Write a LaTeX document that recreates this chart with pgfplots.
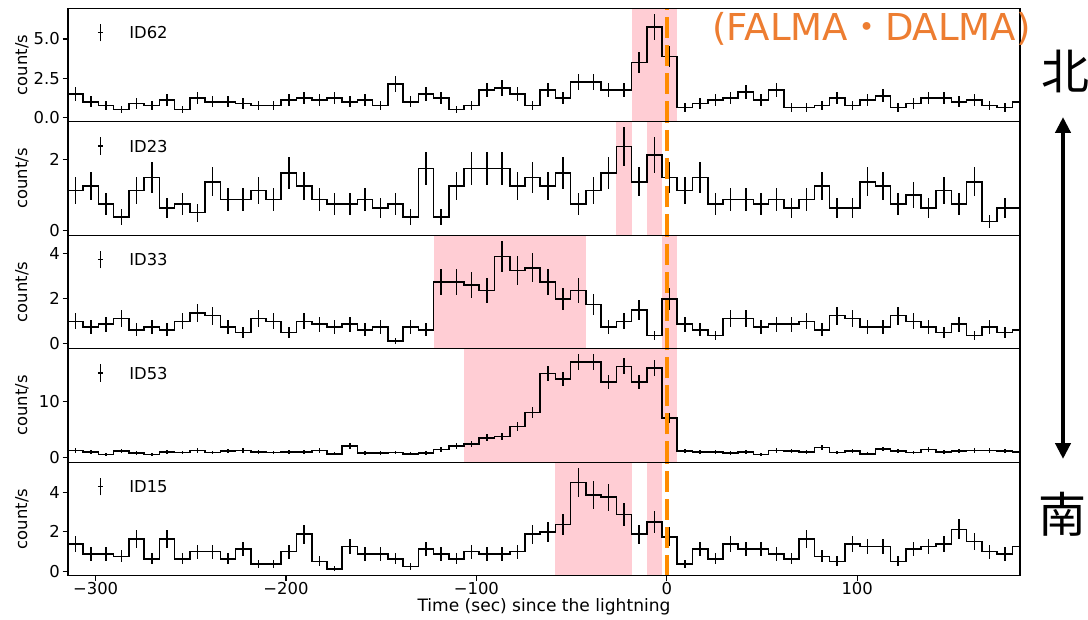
\documentclass[border=0pt]{standalone}
\usepackage{pgfplots}
\pgfplotsset{compat=1.18}
\usepackage{pgfplotstable}
\usepackage{fontspec}
\usetikzlibrary{arrows.meta}
\setmainfont{DejaVu Sans}
\newfontfamily\cjk{Noto Sans CJK JP}
\definecolor{spanpink}{RGB}{255,205,212}
\definecolor{lineorange}{RGB}{255,140,0}
\definecolor{labelorange}{RGB}{237,125,49}
\newcommand\fs{\fontsize{12.3}{14.8}\selectfont}

% 8 s light curves: bin centre, rate (count/s), 1-sigma error
\pgfplotstableread{
t r e
-310.5 1.5 0.433
-302.5 1.0 0.354
-294.5 0.75 0.306
-286.5 0.5 0.25
-278.5 0.875 0.331
-270.5 0.75 0.306
-262.5 1.125 0.375
-254.5 0.5 0.25
-246.5 1.25 0.395
-238.5 1.0 0.354
-230.5 1.0 0.354
-222.5 0.875 0.331
-214.5 0.75 0.306
-206.5 0.75 0.306
-198.5 1.125 0.375
-190.5 1.25 0.395
-182.5 1.125 0.375
-174.5 1.25 0.395
-166.5 1.0 0.354
-158.5 1.125 0.375
-150.5 0.75 0.306
-142.5 2.125 0.515
-134.5 1.0 0.354
-126.5 1.5 0.433
-118.5 1.25 0.395
-110.5 0.5 0.25
-102.5 0.75 0.306
-94.5 1.75 0.468
-86.5 1.875 0.484
-78.5 1.5 0.433
-70.5 0.75 0.306
-62.5 1.75 0.468
-54.5 1.25 0.395
-46.5 2.25 0.530
-38.5 2.25 0.530
-30.5 1.75 0.468
-22.5 1.75 0.468
-14.5 3.5 0.661
-6.5 5.75 0.848
1.5 3.875 0.696
9.5 0.625 0.280
17.5 0.875 0.331
25.5 1.125 0.375
33.5 1.25 0.395
41.5 1.625 0.451
49.5 1.125 0.375
57.5 1.75 0.468
65.5 0.625 0.280
73.5 0.625 0.280
81.5 0.75 0.306
89.5 1.25 0.395
97.5 0.75 0.306
105.5 1.125 0.375
113.5 1.375 0.415
121.5 0.625 0.280
129.5 0.875 0.331
137.5 1.25 0.395
145.5 1.25 0.395
153.5 1.0 0.354
161.5 1.125 0.375
169.5 0.75 0.306
177.5 0.625 0.280
185.5 1.0 0.354
}\idsixtytwo

\pgfplotstableread{
t r e
-310.5 1.125 0.375
-302.5 1.25 0.395
-294.5 0.75 0.306
-286.5 0.375 0.217
-278.5 1.125 0.375
-270.5 1.5 0.433
-262.5 0.625 0.280
-254.5 0.75 0.306
-246.5 0.5 0.25
-238.5 1.375 0.415
-230.5 0.875 0.331
-222.5 0.875 0.331
-214.5 1.125 0.375
-206.5 0.875 0.331
-198.5 1.625 0.451
-190.5 1.25 0.395
-182.5 0.875 0.331
-174.5 0.75 0.306
-166.5 0.75 0.306
-158.5 0.875 0.331
-150.5 0.625 0.280
-142.5 0.75 0.306
-134.5 0.375 0.217
-126.5 1.75 0.468
-118.5 0.375 0.217
-110.5 1.25 0.395
-102.5 1.75 0.468
-94.5 1.75 0.468
-86.5 1.75 0.468
-78.5 1.25 0.395
-70.5 1.5 0.433
-62.5 1.25 0.395
-54.5 1.625 0.451
-46.5 0.75 0.306
-38.5 1.125 0.375
-30.5 1.625 0.451
-22.5 2.375 0.545
-14.5 1.375 0.415
-6.5 2.125 0.515
1.5 1.5 0.433
9.5 1.125 0.375
17.5 1.5 0.433
25.5 0.75 0.306
33.5 0.875 0.331
41.5 0.875 0.331
49.5 0.75 0.306
57.5 0.875 0.331
65.5 0.625 0.280
73.5 0.875 0.331
81.5 1.25 0.395
89.5 0.625 0.280
97.5 0.625 0.280
105.5 1.375 0.415
113.5 1.25 0.395
121.5 0.75 0.306
129.5 1.0 0.354
137.5 0.625 0.280
145.5 1.125 0.375
153.5 0.75 0.306
161.5 1.375 0.415
169.5 0.25 0.177
177.5 0.625 0.280
185.5 0.625 0.280
}\idtwentythree

\pgfplotstableread{
t r e
-310.5 1.0 0.354
-302.5 0.75 0.306
-294.5 0.875 0.331
-286.5 1.125 0.375
-278.5 0.625 0.280
-270.5 0.75 0.306
-262.5 0.625 0.280
-254.5 1.0 0.354
-246.5 1.375 0.415
-238.5 1.25 0.395
-230.5 0.75 0.306
-222.5 0.5 0.25
-214.5 1.125 0.375
-206.5 1.0 0.354
-198.5 0.5 0.25
-190.5 1.0 0.354
-182.5 0.875 0.331
-174.5 0.75 0.306
-166.5 0.875 0.331
-158.5 0.625 0.280
-150.5 0.75 0.306
-142.5 0.125 0.125
-134.5 0.75 0.306
-126.5 0.625 0.280
-118.5 2.75 0.586
-110.5 2.75 0.586
-102.5 2.625 0.573
-94.5 2.375 0.545
-86.5 3.875 0.696
-78.5 3.25 0.637
-70.5 3.375 0.650
-62.5 2.75 0.586
-54.5 2.0 0.5
-46.5 2.375 0.545
-38.5 1.75 0.468
-30.5 0.75 0.306
-22.5 1.0 0.354
-14.5 1.5 0.433
-6.5 0.375 0.217
1.5 2.0 0.5
9.5 0.875 0.331
17.5 0.625 0.280
25.5 0.375 0.217
33.5 1.125 0.375
41.5 1.125 0.375
49.5 0.75 0.306
57.5 0.875 0.331
65.5 0.875 0.331
73.5 1.0 0.354
81.5 0.625 0.280
89.5 1.25 0.395
97.5 1.125 0.375
105.5 0.75 0.306
113.5 0.75 0.306
121.5 1.25 0.395
129.5 1.0 0.354
137.5 0.75 0.306
145.5 0.5 0.25
153.5 0.875 0.331
161.5 0.375 0.217
169.5 0.75 0.306
177.5 0.5 0.25
185.5 0.625 0.280
}\idthirtythree

\pgfplotstableread{
t r e
-310.5 1.25 0.395
-302.5 1.0 0.354
-294.5 0.5 0.25
-286.5 1.125 0.375
-278.5 0.75 0.306
-270.5 0.5 0.25
-262.5 1.0 0.354
-254.5 0.875 0.331
-246.5 1.25 0.395
-238.5 0.875 0.331
-230.5 1.125 0.375
-222.5 1.25 0.395
-214.5 1.0 0.354
-206.5 0.875 0.331
-198.5 1.0 0.354
-190.5 1.0 0.354
-182.5 1.25 0.395
-174.5 0.625 0.280
-166.5 2.0 0.5
-158.5 0.75 0.306
-150.5 0.75 0.306
-142.5 0.875 0.331
-134.5 0.625 0.280
-126.5 0.75 0.306
-118.5 1.375 0.415
-110.5 2.0 0.5
-102.5 2.375 0.545
-94.5 3.5 0.661
-86.5 3.75 0.685
-78.5 5.5 0.829
-70.5 8.0 1.0
-62.5 15.0 1.369
-54.5 14.0 1.323
-46.5 17.0 1.458
-38.5 17.0 1.458
-30.5 13.5 1.299
-22.5 16.25 1.425
-14.5 13.5 1.299
-6.5 16.0 1.414
1.5 7.0 0.935
9.5 1.125 0.375
17.5 1.0 0.354
25.5 1.0 0.354
33.5 0.75 0.306
41.5 1.0 0.354
49.5 0.5 0.25
57.5 1.25 0.395
65.5 1.125 0.375
73.5 1.0 0.354
81.5 1.75 0.468
89.5 0.875 0.331
97.5 1.125 0.375
105.5 0.625 0.280
113.5 1.5 0.433
121.5 1.125 0.375
129.5 0.875 0.331
137.5 1.375 0.415
145.5 1.0 0.354
153.5 1.125 0.375
161.5 1.25 0.395
169.5 1.25 0.395
177.5 1.125 0.375
185.5 1.0 0.354
}\idfiftythree

\pgfplotstableread{
t r e
-310.5 1.375 0.415
-302.5 0.875 0.331
-294.5 0.875 0.331
-286.5 0.75 0.306
-278.5 1.625 0.451
-270.5 0.625 0.280
-262.5 1.625 0.451
-254.5 0.625 0.280
-246.5 1.0 0.354
-238.5 1.0 0.354
-230.5 0.625 0.280
-222.5 1.125 0.375
-214.5 0.375 0.217
-206.5 0.375 0.217
-198.5 1.0 0.354
-190.5 1.875 0.484
-182.5 0.5 0.25
-174.5 0.125 0.125
-166.5 1.25 0.395
-158.5 0.875 0.331
-150.5 0.875 0.331
-142.5 0.625 0.280
-134.5 0.25 0.177
-126.5 1.125 0.375
-118.5 0.875 0.331
-110.5 0.625 0.280
-102.5 1.0 0.354
-94.5 0.875 0.331
-86.5 0.875 0.331
-78.5 1.0 0.354
-70.5 1.875 0.484
-62.5 2.0 0.5
-54.5 2.375 0.545
-46.5 4.5 0.75
-38.5 3.875 0.696
-30.5 3.75 0.685
-22.5 2.875 0.599
-14.5 1.875 0.484
-6.5 2.5 0.559
1.5 1.75 0.468
9.5 0.375 0.217
17.5 1.125 0.375
25.5 0.625 0.280
33.5 1.375 0.415
41.5 1.125 0.375
49.5 1.125 0.375
57.5 0.875 0.331
65.5 0.625 0.280
73.5 1.625 0.451
81.5 0.75 0.306
89.5 0.5 0.25
97.5 1.375 0.415
105.5 1.25 0.395
113.5 1.25 0.395
121.5 0.5 0.25
129.5 1.125 0.375
137.5 1.25 0.395
145.5 1.375 0.415
153.5 2.125 0.515
161.5 1.5 0.433
169.5 1.0 0.354
177.5 0.875 0.331
185.5 1.25 0.395
}\idfifteen

\pgfplotsset{
  lc/.style={
    width=714pt, height=85.125pt, scale only axis,
    xmin=-314.5, xmax=185.5,
    axis on top,
    axis line style={line width=0.9pt},
    every tick/.style={black, line width=0.9pt},
    tick align=outside, major tick length=4pt,
    ytick pos=left, xtick pos=bottom,
    xtick=\empty,
    tick label style={font=\fs},
    yticklabel style={inner xsep=2pt},
    ylabel={count/s},
    every axis y label/.style={at={(axis description cs:0,0.5)}, xshift=-34.5pt, rotate=90, anchor=center, font=\fs},
    legend style={draw=none, fill=none, inner sep=0pt, outer sep=0pt,
      at={(axis description cs:0.0284,0.786)}, anchor=west,
      nodes={inner sep=0pt, text depth=0pt}, cells={anchor=west}, font=\fs},
  },
  idkey/.style={legend image code/.code={
    \path[draw=none, fill=none] (-4pt,-6.5pt) rectangle (21.7pt,6.5pt);
    \draw[black, line width=1pt] (0pt,-6.5pt) -- (0pt,6.5pt);
    \draw[black, line width=1pt] (-1.8pt,0pt) -- (1.8pt,0pt);
  }},
  steps/.style={black, line width=1.2pt, const plot mark left, mark=none, forget plot},
  ebars/.style={draw=none, mark=none, forget plot,
    error bars/.cd, y dir=both, y explicit, error mark=none,
    error bar style={draw=black, line width=1.1pt}},
  span/.style={draw=none, fill=spanpink, forget plot},
  zero/.style={lineorange, line width=3pt, dash pattern=on 15.75pt off 5.25pt, forget plot},
}

\begin{document}
\begin{tikzpicture}
\path[use as bounding box] (0,0) rectangle (816pt,464.25pt);

% ID62
\begin{axis}[lc, at={(51pt,372.9pt)}, anchor=south west,
  ymin=-0.28, ymax=6.95, ytick={0,2.5,5}, yticklabels={0.0,2.5,5.0}]
  \addlegendimage{idkey}\addlegendentry{ID62}
  \addplot[span] coordinates {(-18.5,-10) (-18.5,30) (5.5,30) (5.5,-10)} -- cycle;
  \addplot[steps] table[x expr=\thisrow{t}-4, y=r] {\idsixtytwo};
  \addplot[black, line width=1.2pt, forget plot] coordinates {(181.5,1.0) (185.5,1.0)};
  \addplot[ebars] table[x=t, y=r, y error=e] {\idsixtytwo};
  \addplot[zero] coordinates {(0,-0.28) (0,6.95)};
\end{axis}

% ID23
\begin{axis}[lc, at={(51pt,287.775pt)}, anchor=south west,
  ymin=-0.14, ymax=3.07, ytick={0,2}, yticklabels={0,2}]
  \addlegendimage{idkey}\addlegendentry{ID23}
  \addplot[span] coordinates {(-26.5,-10) (-26.5,30) (-18.5,30) (-18.5,-10)} -- cycle;
  \addplot[span] coordinates {(-10.5,-10) (-10.5,30) (-2.5,30) (-2.5,-10)} -- cycle;
  \addplot[steps] table[x expr=\thisrow{t}-4, y=r] {\idtwentythree};
  \addplot[black, line width=1.2pt, forget plot] coordinates {(181.5,0.625) (185.5,0.625)};
  \addplot[ebars] table[x=t, y=r, y error=e] {\idtwentythree};
  \addplot[zero] coordinates {(0,-0.14) (0,3.07)};
\end{axis}

% ID33
\begin{axis}[lc, at={(51pt,202.65pt)}, anchor=south west,
  ymin=-0.22, ymax=4.82, ytick={0,2,4}, yticklabels={0,2,4}]
  \addlegendimage{idkey}\addlegendentry{ID33}
  \addplot[span] coordinates {(-122.5,-10) (-122.5,30) (-42.5,30) (-42.5,-10)} -- cycle;
  \addplot[span] coordinates {(-2.5,-10) (-2.5,30) (5.5,30) (5.5,-10)} -- cycle;
  \addplot[steps] table[x expr=\thisrow{t}-4, y=r] {\idthirtythree};
  \addplot[black, line width=1.2pt, forget plot] coordinates {(181.5,0.625) (185.5,0.625)};
  \addplot[ebars] table[x=t, y=r, y error=e] {\idthirtythree};
  \addplot[zero] coordinates {(0,-0.22) (0,4.82)};
\end{axis}

% ID53
\begin{axis}[lc, at={(51pt,117.525pt)}, anchor=south west,
  ymin=-0.88, ymax=19.4, ytick={0,10}, yticklabels={0,10}]
  \addlegendimage{idkey}\addlegendentry{ID53}
  \addplot[span] coordinates {(-106.5,-10) (-106.5,30) (5.5,30) (5.5,-10)} -- cycle;
  \addplot[steps] table[x expr=\thisrow{t}-4, y=r] {\idfiftythree};
  \addplot[black, line width=1.2pt, forget plot] coordinates {(181.5,1.0) (185.5,1.0)};
  \addplot[ebars] table[x=t, y=r, y error=e] {\idfiftythree};
  \addplot[zero] coordinates {(0,-0.88) (0,19.4)};
\end{axis}

% ID15
\begin{axis}[lc, at={(51pt,32.4pt)}, anchor=south west,
  ymin=-0.23, ymax=5.52, ytick={0,2,4}, yticklabels={0,2,4},
  xtick={-300,-200,-100,0,100}, xticklabels={−300,−200,−100,0,100},
  xticklabel style={yshift=2.5pt},
  xlabel={Time (sec) since the lightning},
  every axis x label/.style={at={(axis description cs:0.5,0)}, anchor=center, yshift=-23.6pt, font=\fontsize{12.8}{15}\selectfont}]
  \addlegendimage{idkey}\addlegendentry{ID15}
  \addplot[span] coordinates {(-58.5,-10) (-58.5,30) (-18.5,30) (-18.5,-10)} -- cycle;
  \addplot[span] coordinates {(-10.5,-10) (-10.5,30) (-2.5,30) (-2.5,-10)} -- cycle;
  \addplot[steps] table[x expr=\thisrow{t}-4, y=r] {\idfifteen};
  \addplot[black, line width=1.2pt, forget plot] coordinates {(181.5,1.25) (185.5,1.25)};
  \addplot[ebars] table[x=t, y=r, y error=e] {\idfifteen};
  \addplot[zero] coordinates {(0,-0.23) (0,5.52)};
\end{axis}

% annotations
\node[anchor=west, inner sep=0pt, text=labelorange, font=\fontsize{27.8}{30}\selectfont]
  at (534pt,442.9pt) {(FALMA{\cjk ・}DALMA)};
\node[inner sep=0pt, font=\cjk\fontsize{36}{36}\selectfont] at (798.75pt,411pt) {北};
\node[inner sep=0pt, font=\cjk\fontsize{36}{36}\selectfont] at (796.5pt,78.75pt) {南};
\draw[line width=3.2pt, {Triangle[length=12pt,width=11.3pt]}-{Triangle[length=12pt,width=11.3pt]}]
  (797.25pt,376.5pt) -- (797.25pt,120pt);
\end{tikzpicture}
\end{document}
